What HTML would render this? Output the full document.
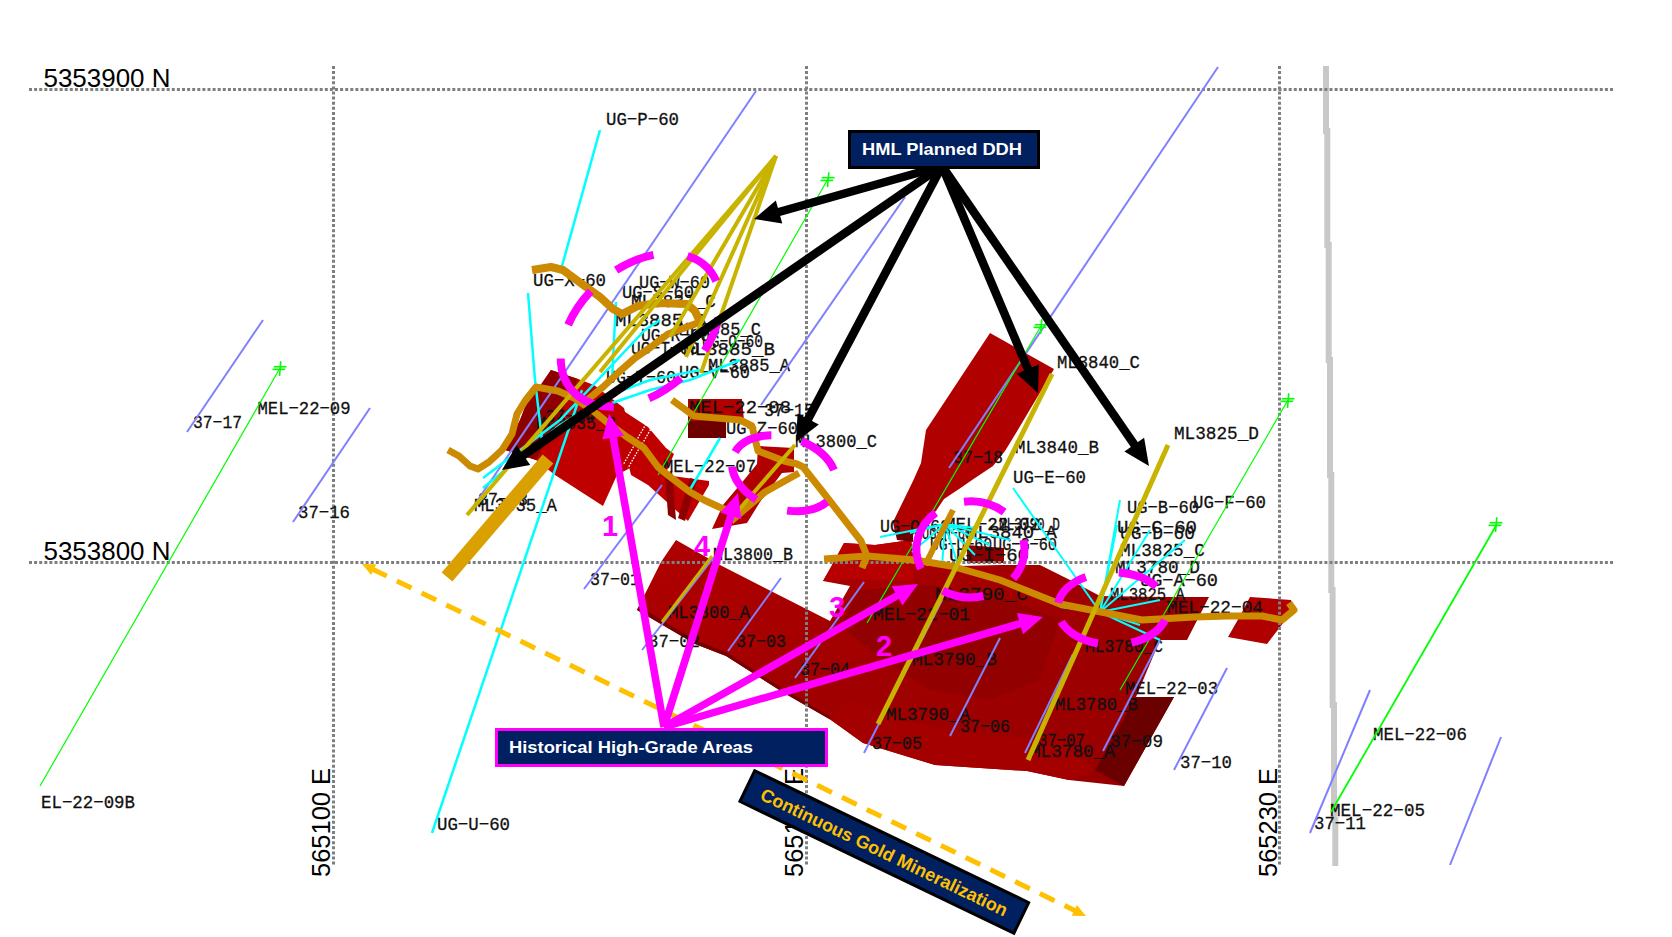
<!DOCTYPE html>
<html><head><meta charset="utf-8"><style>html,body{margin:0;padding:0;background:#fff;overflow:hidden}svg{display:block}</style></head>
<body><svg width="1672" height="937" viewBox="0 0 1672 937" font-family="Liberation Sans">
<defs>
<linearGradient id="gMain" x1="0" y1="0" x2="1" y2="1"><stop offset="0" stop-color="#B00000"/><stop offset="0.5" stop-color="#A00000"/><stop offset="1" stop-color="#960000"/></linearGradient>
<linearGradient id="gLeft" x1="0" y1="0" x2="1" y2="1"><stop offset="0" stop-color="#A00000"/><stop offset="1" stop-color="#C00000"/></linearGradient>
</defs>
<rect width="1672" height="937" fill="#fff"/>
<polyline points="1326,66 1326,131 1327.3,131 1327.3,245 1328.7,245 1328.7,360 1330,360 1330,475 1331.3,475 1331.3,590 1332.6,590 1332.6,705 1334,705 1334,820 1335.3,820 1335.3,866" fill="none" stroke="#C8C8C8" stroke-width="6"/>
<polygon points="676,540 720,565 830,621 850,586 823,581 831,567 844,543 875,545 911,540 915,562 960,566 1000,565 1040,565 1070,580 1100,596 1163,597 1209,597 1187,640 1160,640 1136,697 1174,697 1124,786 1069,780 1027,771 935,765 863,743 831,720 784,693 726,656 695,644 637,610 644,596 661,562" fill="url(#gMain)"/><polygon points="1136,697 1174,697 1124,786 1095,770" fill="#6A0000"/><polygon points="1250,597 1291,600 1294,609 1267,644 1228,637 1240,616" fill="#B00000"/><polygon points="637,610 695,644 726,656 784,693 831,720 829,716 784,689 726,652 695,640 639,606" fill="#780000"/><polygon points="860,590 930,585 1010,600 1060,620 1040,680 990,700 930,690 870,650 840,625" fill="#930000"/><polygon points="831,720 863,743 935,765 1027,771 1069,780 1095,770 1060,740 980,735 900,720 850,700" fill="#A40000"/><polygon points="823,581 831,567 844,543 875,545 911,540 915,565 912,582 857,579" fill="#B80000"/><polygon points="990,333 1054,369 1016,433 1005,451 993,466 972,480 962,487 944,499 936,511 922,523 913,535 895,533 893,522 913,481 921,463 926,430" fill="#B00000"/><polygon points="895,531 913,533 913,542 897,540" fill="#6A0000"/><polygon points="967,545 1004,548 1004,563 967,563" fill="#8A0000"/><polygon points="551,370 578,379 594,385 624,408 632,440 632,467 617,475 603,506 555,475 536,460 505,450 520,420 527,402 540,386" fill="#BE0000"/><polygon points="613,404 648,427 666,448 674,454 665,475 709,481 709,485 688,521 648,485 631,475 625,450" fill="#C00000"/><polygon points="551,370 540,386 527,402 520,420 505,450 536,460 555,425 572,392 578,379" fill="#8E0000"/><g stroke="#fff" stroke-width="1.3" stroke-dasharray="1.6 1.4"><line x1="652" y1="427" x2="641" y2="446"/><line x1="646" y1="424" x2="635" y2="443"/><line x1="640" y1="447" x2="628" y2="468"/><line x1="635" y1="444" x2="623" y2="465"/></g><polygon points="665,475 672,470 676,520 668,515" fill="#8E0000"/><polygon points="690,478 697,480 685,521 678,518" fill="#8E0000"/><polygon points="688,399 742,399 744,421 688,421" fill="#B00000"/><polygon points="688,421 726,421 726,438 688,438" fill="#6E0000"/><polygon points="758,446 794,448 794,472 782,473 760,502 747,523 712,529 723,505 744,480 757,464" fill="#B00000"/>
<line x1="29" y1="89.5" x2="1613" y2="89.5" stroke="#7F7F7F" stroke-width="3" stroke-dasharray="3 2.1"/><line x1="29" y1="562.5" x2="1613" y2="562.5" stroke="#7F7F7F" stroke-width="3" stroke-dasharray="3 2.1"/><line x1="333.5" y1="66" x2="333.5" y2="866" stroke="#7F7F7F" stroke-width="3" stroke-dasharray="3 2.1"/><line x1="806.5" y1="66" x2="806.5" y2="866" stroke="#7F7F7F" stroke-width="3" stroke-dasharray="3 2.1"/><line x1="1279.5" y1="66" x2="1279.5" y2="866" stroke="#7F7F7F" stroke-width="3" stroke-dasharray="3 2.1"/>
<g font-size="18.5" font-family="Liberation Mono" fill="#111" stroke="#111" stroke-width="0.3"><text x="606" y="124.5" textLength="73" lengthAdjust="spacingAndGlyphs">UG&#8722;P&#8722;60</text><text x="533" y="286" textLength="73" lengthAdjust="spacingAndGlyphs">UG&#8722;X&#8722;60</text><text x="639" y="288" textLength="71" lengthAdjust="spacingAndGlyphs">UG&#8722;W&#8722;60</text><text x="622" y="297.5" textLength="72" lengthAdjust="spacingAndGlyphs">UG&#8722;S&#8722;60</text><text x="631" y="307" textLength="85" lengthAdjust="spacingAndGlyphs">ML3837_C</text><text x="615" y="326" textLength="91" lengthAdjust="spacingAndGlyphs">ML3885_B</text><text x="679" y="334.5" textLength="82" lengthAdjust="spacingAndGlyphs">ML3885_C</text><text x="641" y="341" textLength="69" lengthAdjust="spacingAndGlyphs">UG&#8722;R&#8722;60</text><text x="702" y="347" textLength="61" lengthAdjust="spacingAndGlyphs">UG&#8722;O&#8722;60</text><text x="631" y="353.5" textLength="68" lengthAdjust="spacingAndGlyphs">UG&#8722;T&#8722;60</text><text x="683" y="355" textLength="92" lengthAdjust="spacingAndGlyphs">ML3885_B</text><text x="708" y="371" textLength="82" lengthAdjust="spacingAndGlyphs">ML3885_A</text><text x="606" y="382.5" textLength="70" lengthAdjust="spacingAndGlyphs">UG&#8722;Y&#8722;60</text><text x="679" y="377.5" textLength="71" lengthAdjust="spacingAndGlyphs">UG&#8722;V&#8722;60</text><text x="689" y="413" textLength="102" lengthAdjust="spacingAndGlyphs">MEL&#8722;22&#8722;08</text><text x="764" y="416" textLength="50" lengthAdjust="spacingAndGlyphs">37&#8722;15</text><text x="726" y="433.5" textLength="72" lengthAdjust="spacingAndGlyphs">UG&#8722;Z&#8722;60</text><text x="795" y="446.5" textLength="82" lengthAdjust="spacingAndGlyphs">ML3800_C</text><text x="474" y="510.5" textLength="83" lengthAdjust="spacingAndGlyphs">ML3835_A</text><text x="478" y="505" textLength="50" lengthAdjust="spacingAndGlyphs">37&#8722;13</text><text x="663" y="472" textLength="93" lengthAdjust="spacingAndGlyphs">MEL&#8722;22&#8722;07</text><text x="536" y="429" textLength="80" lengthAdjust="spacingAndGlyphs">ML3835_B</text><text x="545" y="422" textLength="50" lengthAdjust="spacingAndGlyphs">37&#8722;14</text><text x="1057" y="368" textLength="83" lengthAdjust="spacingAndGlyphs">ML3840_C</text><text x="1015" y="452.5" textLength="84" lengthAdjust="spacingAndGlyphs">ML3840_B</text><text x="953" y="463" textLength="50" lengthAdjust="spacingAndGlyphs">37&#8722;18</text><text x="1013" y="483" textLength="73" lengthAdjust="spacingAndGlyphs">UG&#8722;E&#8722;60</text><text x="1174" y="438.5" textLength="85" lengthAdjust="spacingAndGlyphs">ML3825_D</text><text x="1127" y="513" textLength="72" lengthAdjust="spacingAndGlyphs">UG&#8722;B&#8722;60</text><text x="1193" y="508" textLength="73" lengthAdjust="spacingAndGlyphs">UG&#8722;F&#8722;60</text><text x="1117" y="533" textLength="80" lengthAdjust="spacingAndGlyphs">UG&#8722;C&#8722;60</text><text x="1120" y="539" textLength="75" lengthAdjust="spacingAndGlyphs">UG&#8722;D&#8722;60</text><text x="1120" y="556" textLength="85" lengthAdjust="spacingAndGlyphs">ML3825_C</text><text x="1115" y="573" textLength="85" lengthAdjust="spacingAndGlyphs">ML3780_D</text><text x="1140" y="586" textLength="78" lengthAdjust="spacingAndGlyphs">UG&#8722;A&#8722;60</text><text x="1110" y="600" textLength="75" lengthAdjust="spacingAndGlyphs">ML3825_A</text><text x="1167" y="613" textLength="96" lengthAdjust="spacingAndGlyphs">MEL&#8722;22&#8722;04</text><text x="935" y="600" textLength="93" lengthAdjust="spacingAndGlyphs">ML3790_C</text><text x="873" y="620" textLength="97" lengthAdjust="spacingAndGlyphs">MEL&#8722;22&#8722;01</text><text x="912" y="665" textLength="85" lengthAdjust="spacingAndGlyphs">ML3790_B</text><text x="1085" y="652" textLength="78" lengthAdjust="spacingAndGlyphs">ML3780_C</text><text x="1125" y="694" textLength="93" lengthAdjust="spacingAndGlyphs">MEL&#8722;22&#8722;03</text><text x="1055" y="710" textLength="83" lengthAdjust="spacingAndGlyphs">ML3780_B</text><text x="886" y="720" textLength="84" lengthAdjust="spacingAndGlyphs">ML3790_A</text><text x="960" y="732" textLength="50" lengthAdjust="spacingAndGlyphs">37&#8722;06</text><text x="872" y="749" textLength="50" lengthAdjust="spacingAndGlyphs">37&#8722;05</text><text x="1038" y="746" textLength="47" lengthAdjust="spacingAndGlyphs">37&#8722;07</text><text x="1030" y="757" textLength="85" lengthAdjust="spacingAndGlyphs">ML3780_A</text><text x="1110" y="747" textLength="53" lengthAdjust="spacingAndGlyphs">37&#8722;09</text><text x="1180" y="768" textLength="52" lengthAdjust="spacingAndGlyphs">37&#8722;10</text><text x="713" y="560" textLength="80" lengthAdjust="spacingAndGlyphs">ML3800_B</text><text x="590" y="585" textLength="50" lengthAdjust="spacingAndGlyphs">37&#8722;01</text><text x="668" y="618" textLength="82" lengthAdjust="spacingAndGlyphs">ML3800_A</text><text x="648" y="647" textLength="52" lengthAdjust="spacingAndGlyphs">37&#8722;02</text><text x="736" y="647" textLength="50" lengthAdjust="spacingAndGlyphs">37&#8722;03</text><text x="800" y="675" textLength="50" lengthAdjust="spacingAndGlyphs">37&#8722;04</text><text x="193" y="428" textLength="49" lengthAdjust="spacingAndGlyphs">37&#8722;17</text><text x="257.5" y="414" textLength="93" lengthAdjust="spacingAndGlyphs">MEL&#8722;22&#8722;09</text><text x="298" y="518" textLength="52" lengthAdjust="spacingAndGlyphs">37&#8722;16</text><text x="41" y="808" textLength="94" lengthAdjust="spacingAndGlyphs">EL&#8722;22&#8722;09B</text><text x="437" y="830" textLength="73" lengthAdjust="spacingAndGlyphs">UG&#8722;U&#8722;60</text><text x="1373" y="739.5" textLength="94" lengthAdjust="spacingAndGlyphs">MEL&#8722;22&#8722;06</text><text x="1330" y="816" textLength="95" lengthAdjust="spacingAndGlyphs">MEL&#8722;22&#8722;05</text><text x="1314" y="829" textLength="52" lengthAdjust="spacingAndGlyphs">37&#8722;11</text><text x="880" y="532" textLength="70" lengthAdjust="spacingAndGlyphs">UG&#8722;Q&#8722;60</text><text x="945" y="530" textLength="95" lengthAdjust="spacingAndGlyphs">MEL&#8722;22&#8722;02</text><text x="999" y="530" textLength="61" lengthAdjust="spacingAndGlyphs">ML3790_D</text><text x="922" y="539" textLength="50" lengthAdjust="spacingAndGlyphs">UG&#8722;H&#8722;60</text><text x="966" y="538" textLength="91" lengthAdjust="spacingAndGlyphs">ML3840_A</text><text x="930" y="550" textLength="62" lengthAdjust="spacingAndGlyphs">UG&#8722;U&#8722;60</text><text x="993" y="550" textLength="64" lengthAdjust="spacingAndGlyphs">UG&#8722;G&#8722;60</text><text x="949" y="561" textLength="80" lengthAdjust="spacingAndGlyphs">UG&#8722;I&#8722;60</text></g>
<line x1="187" y1="432" x2="263" y2="320" stroke="#8080FF" stroke-width="2"/><line x1="293" y1="522" x2="370" y2="408" stroke="#8080FF" stroke-width="2"/><line x1="471" y1="510" x2="756" y2="91" stroke="#8080FF" stroke-width="2"/><line x1="949" y1="468" x2="1218" y2="67" stroke="#8080FF" stroke-width="2"/><line x1="761" y1="405" x2="905" y2="197" stroke="#8080FF" stroke-width="2"/><line x1="584" y1="589" x2="662" y2="485" stroke="#8080FF" stroke-width="2"/><line x1="642" y1="650" x2="714" y2="557" stroke="#8080FF" stroke-width="2"/><line x1="728" y1="651" x2="781" y2="578" stroke="#8080FF" stroke-width="2"/><line x1="795" y1="678" x2="864" y2="582" stroke="#8080FF" stroke-width="2"/><line x1="864" y1="753" x2="942" y2="600" stroke="#8080FF" stroke-width="2"/><line x1="950" y1="736" x2="1000" y2="638" stroke="#8080FF" stroke-width="2"/><line x1="1025" y1="753" x2="1073" y2="654" stroke="#8080FF" stroke-width="2"/><line x1="1103" y1="751" x2="1160" y2="640" stroke="#8080FF" stroke-width="2"/><line x1="1174" y1="770" x2="1227" y2="668" stroke="#8080FF" stroke-width="2"/><line x1="1310" y1="833" x2="1370" y2="690" stroke="#8080FF" stroke-width="2"/><line x1="1450" y1="865" x2="1501" y2="737" stroke="#8080FF" stroke-width="2"/><line x1="40" y1="786" x2="280" y2="368" stroke="#00FF00" stroke-width="1.2"/><line x1="658" y1="475" x2="828" y2="179" stroke="#00FF00" stroke-width="1.2"/><line x1="1041" y1="326" x2="867" y2="623" stroke="#00FF00" stroke-width="1.2"/><line x1="1288" y1="400" x2="1120" y2="690" stroke="#00FF00" stroke-width="1.2"/><line x1="1497" y1="524" x2="1331" y2="812" stroke="#00FF00" stroke-width="1.8"/><line x1="432" y1="833" x2="582" y2="390" stroke="#00FFFF" stroke-width="2.5"/><line x1="562" y1="266" x2="600" y2="130" stroke="#00FFFF" stroke-width="2.5"/><line x1="688" y1="493" x2="720" y2="438" stroke="#00FFFF" stroke-width="2.5"/><polyline points="528,293 535,380 542,440" fill="none" stroke="#00FFFF" stroke-width="2.5"/><polyline points="483,488 560,425 610,395 650,380 700,370" fill="none" stroke="#00FFFF" stroke-width="2.5"/><polyline points="483,478 560,420 645,330 660,320" fill="none" stroke="#00FFFF" stroke-width="2.5"/><polyline points="612,380 614,340 616,302" fill="none" stroke="#00FFFF" stroke-width="2.5"/><polyline points="612,403 650,390 690,380 740,360" fill="none" stroke="#00FFFF" stroke-width="2.5"/><line x1="945" y1="524" x2="880" y2="537" stroke="#00FFFF" stroke-width="2"/><line x1="945" y1="524" x2="910" y2="533" stroke="#00FFFF" stroke-width="2"/><line x1="945" y1="524" x2="912" y2="552" stroke="#00FFFF" stroke-width="2"/><line x1="945" y1="524" x2="930" y2="560" stroke="#00FFFF" stroke-width="2"/><line x1="945" y1="524" x2="942" y2="567" stroke="#00FFFF" stroke-width="2"/><line x1="945" y1="524" x2="958" y2="565" stroke="#00FFFF" stroke-width="2"/><line x1="945" y1="524" x2="975" y2="555" stroke="#00FFFF" stroke-width="2"/><line x1="945" y1="524" x2="990" y2="545" stroke="#00FFFF" stroke-width="2"/><line x1="945" y1="524" x2="1010" y2="540" stroke="#00FFFF" stroke-width="2"/><line x1="945" y1="524" x2="975" y2="528" stroke="#00FFFF" stroke-width="2"/><line x1="1100" y1="612" x2="1060" y2="607" stroke="#00FFFF" stroke-width="2"/><line x1="1100" y1="612" x2="1117" y2="525" stroke="#00FFFF" stroke-width="2"/><line x1="1100" y1="612" x2="1120" y2="500" stroke="#00FFFF" stroke-width="2"/><line x1="1100" y1="612" x2="1150" y2="530" stroke="#00FFFF" stroke-width="2"/><line x1="1100" y1="612" x2="1185" y2="540" stroke="#00FFFF" stroke-width="2"/><line x1="1100" y1="612" x2="1160" y2="600" stroke="#00FFFF" stroke-width="2"/><line x1="1100" y1="612" x2="1140" y2="625" stroke="#00FFFF" stroke-width="2"/><line x1="1100" y1="612" x2="1160" y2="640" stroke="#00FFFF" stroke-width="2"/><line x1="1013" y1="488" x2="1100" y2="612" stroke="#00FFFF" stroke-width="2"/>
<g stroke="#00FF00" stroke-width="1.6"><line x1="273.7" y1="366.7" x2="286.5" y2="366.7"/><line x1="272.5" y1="369.4" x2="285.2" y2="369.4"/><line x1="280.8" y1="361.3" x2="279.5" y2="376"/></g><g stroke="#00FF00" stroke-width="1.6"><line x1="821.7" y1="177.7" x2="834.5" y2="177.7"/><line x1="820.5" y1="180.4" x2="833.2" y2="180.4"/><line x1="828.8" y1="172.3" x2="827.5" y2="187"/></g><g stroke="#00FF00" stroke-width="1.6"><line x1="1034.7" y1="324.7" x2="1047.5" y2="324.7"/><line x1="1033.5" y1="327.4" x2="1046.2" y2="327.4"/><line x1="1041.8" y1="319.3" x2="1040.5" y2="334"/></g><g stroke="#00FF00" stroke-width="1.6"><line x1="1281.7" y1="398.7" x2="1294.5" y2="398.7"/><line x1="1280.5" y1="401.4" x2="1293.2" y2="401.4"/><line x1="1288.8" y1="393.3" x2="1287.5" y2="408"/></g><g stroke="#00FF00" stroke-width="1.6"><line x1="1489.7" y1="522.7" x2="1502.5" y2="522.7"/><line x1="1488.5" y1="525.4" x2="1501.2" y2="525.4"/><line x1="1496.8" y1="517.3" x2="1495.5" y2="532"/></g>
<polyline points="447,577 548,459" fill="none" stroke="#DAA000" stroke-width="14" stroke-linejoin="round"/><polyline points="448,450 459,456 470,466 478,469 489,462 502,450 512,434 517,414 525,401 536,387 558,391 574,398 597,414 608,423 627,437 644,448 658,467 669,476 690,492 704,500 719,507 732,512" fill="none" stroke="#CC8A00" stroke-width="7" stroke-linejoin="round"/><polyline points="532,270 551,267 563,270 582,284 600,297 613,309 622,314 638,306 659,303 687,304 695,311 701,324" fill="none" stroke="#CC8A00" stroke-width="8" stroke-linejoin="round"/><polyline points="700,322 668,334 651,347 635,358 619,372 603,387 586,401" fill="none" stroke="#CC8A00" stroke-width="7" stroke-linejoin="round"/><polyline points="672,400 694,416 740,420 752,426 758,451 784,461 797,464 803,467 826,496 861,541 867,556 915,560 951,566 1000,580 1060,604 1096,611 1142,620 1194,617 1228,616 1262,616 1282,620 1294,610 1289,603" fill="none" stroke="#CC8A00" stroke-width="7" stroke-linejoin="round"/><polyline points="799,473 765,492 731,521" fill="none" stroke="#CC8A00" stroke-width="7" stroke-linejoin="round"/><polyline points="824,559 867,556" fill="none" stroke="#CC8A00" stroke-width="7" stroke-linejoin="round"/><polyline points="862,568 867,556" fill="none" stroke="#CC8A00" stroke-width="7" stroke-linejoin="round"/><polyline points="953,510 925,565" fill="none" stroke="#CC8A00" stroke-width="6" stroke-linejoin="round"/><polyline points="776,156 467,515" fill="none" stroke="#C8B400" stroke-width="4" stroke-linejoin="round"/><polyline points="776,156 600,372" fill="none" stroke="#C8B400" stroke-width="4" stroke-linejoin="round"/><polyline points="776,156 670,337" fill="none" stroke="#C8B400" stroke-width="4" stroke-linejoin="round"/><polyline points="776,156 686,357" fill="none" stroke="#C8B400" stroke-width="4" stroke-linejoin="round"/><polyline points="776,156 701,373" fill="none" stroke="#C8B400" stroke-width="4" stroke-linejoin="round"/><polyline points="1052,374 878,724" fill="none" stroke="#C8B400" stroke-width="5" stroke-linejoin="round"/><polyline points="1168,445 1028,760" fill="none" stroke="#C8B400" stroke-width="5" stroke-linejoin="round"/><polyline points="730,520 795,445" fill="none" stroke="#C8B400" stroke-width="4" stroke-linejoin="round"/><polyline points="662,622 712,556" fill="none" stroke="#C8B400" stroke-width="3" stroke-linejoin="round"/>
<g fill="#000"><text x="43.5" y="86.5" font-size="25" textLength="127" lengthAdjust="spacingAndGlyphs">5353900 N</text><text x="43.5" y="559.5" font-size="25" textLength="127" lengthAdjust="spacingAndGlyphs">5353800 N</text><text transform="translate(329.5,877) rotate(-90)" font-size="25" textLength="109" lengthAdjust="spacingAndGlyphs">565100 E</text><text transform="translate(802.5,877) rotate(-90)" font-size="25" textLength="109" lengthAdjust="spacingAndGlyphs">565165 E</text><text transform="translate(1277,877) rotate(-90)" font-size="25" textLength="109" lengthAdjust="spacingAndGlyphs">565230 E</text></g>
<line x1="362" y1="564" x2="1080" y2="913.1" stroke="#FFC000" stroke-width="5" stroke-dasharray="16.3 11.2" stroke-dashoffset="16.3"/><polygon points="362,564 376.3,564.3 371.1,575.1" fill="#FFC000"/><polygon points="1086,916 1071.7,915.7 1076.9,904.9" fill="#FFC000"/>
<path d="M616.1,270.2 A62.6,91.3 48.2 0 1 653.5,254.9" fill="none" stroke="#FF00FF" stroke-width="8"/><path d="M687.5,256.0 A62.6,91.3 48.2 0 1 716.2,281.2" fill="none" stroke="#FF00FF" stroke-width="8"/><path d="M718.7,317.5 A62.6,91.3 48.2 0 1 704.6,350.6" fill="none" stroke="#FF00FF" stroke-width="8"/><path d="M680.8,377.9 A62.6,91.3 48.2 0 1 648.9,398.3" fill="none" stroke="#FF00FF" stroke-width="8"/><path d="M613.7,406.7 A62.6,91.3 48.2 0 1 560.7,358.5" fill="none" stroke="#FF00FF" stroke-width="8"/><path d="M568.1,324.8 A62.6,91.3 48.2 0 1 590.7,291.2" fill="none" stroke="#FF00FF" stroke-width="8"/><path d="M735.2,451.9 A36.0,53.8 107.9 0 1 771.4,435.2" fill="none" stroke="#FF00FF" stroke-width="8"/><path d="M801.7,441.3 A36.0,53.8 107.9 0 1 834.0,470.0" fill="none" stroke="#FF00FF" stroke-width="8"/><path d="M827.0,501.9 A36.0,53.8 107.9 0 1 787.1,510.6" fill="none" stroke="#FF00FF" stroke-width="8"/><path d="M756.2,499.6 A36.0,53.8 107.9 0 1 732.1,466.9" fill="none" stroke="#FF00FF" stroke-width="8"/><path d="M921.0,568.8 A54,48 180 0 1 935.6,512.7" fill="none" stroke="#FF00FF" stroke-width="8"/><path d="M964.0,501.7 A54,48 180 0 1 1004.2,512.0" fill="none" stroke="#FF00FF" stroke-width="8"/><path d="M1023.4,540.0 A54,48 180 0 1 1013.2,578.6" fill="none" stroke="#FF00FF" stroke-width="8"/><path d="M983.3,596.0 A54,48 180 0 1 942.7,590.6" fill="none" stroke="#FF00FF" stroke-width="8"/><path d="M1058.2,602.8 A55.2,36.2 180 0 1 1085.9,576.9" fill="none" stroke="#FF00FF" stroke-width="8"/><path d="M1118.8,572.6 A55.2,36.2 180 0 1 1156.3,586.4" fill="none" stroke="#FF00FF" stroke-width="8"/><path d="M1165.0,620.1 A55.2,36.2 180 0 1 1131.5,642.6" fill="none" stroke="#FF00FF" stroke-width="8"/><path d="M1098.0,643.5 A55.2,36.2 180 0 1 1061.2,621.7" fill="none" stroke="#FF00FF" stroke-width="8"/><line x1="664" y1="727" x2="612.8" y2="435.7" stroke="#FF00FF" stroke-width="7.5"/><polygon points="609,414 624.0,435.7 602.3,439.5" fill="#FF00FF"/><line x1="664" y1="727" x2="731.4" y2="514.0" stroke="#FF00FF" stroke-width="7.5"/><polygon points="738,493 741.3,519.2 720.3,512.6" fill="#FF00FF"/><line x1="664" y1="727" x2="898.8" y2="594.8" stroke="#FF00FF" stroke-width="7.5"/><polygon points="918,584 902.5,605.4 891.7,586.2" fill="#FF00FF"/><line x1="664" y1="727" x2="1021.9" y2="623.1" stroke="#FF00FF" stroke-width="7.5"/><polygon points="1043,617 1023.0,634.3 1016.9,613.1" fill="#FF00FF"/><g font-weight="bold" font-size="29" fill="#FF00FF"><text x="602" y="535.5">1</text><text x="694" y="556">4</text><text x="829" y="616.5">3</text><text x="876" y="656">2</text></g>
<line x1="942" y1="166" x2="777.1" y2="212.5" stroke="#000" stroke-width="8.5"/><polygon points="754,219 775.8,200.4 782.3,223.5" fill="#000"/><line x1="942" y1="166" x2="521.7" y2="456.4" stroke="#000" stroke-width="8.5"/><polygon points="502,470 516.6,445.3 530.2,465.1" fill="#000"/><line x1="942" y1="166" x2="807.2" y2="420.8" stroke="#000" stroke-width="8.5"/><polygon points="796,442 797.6,413.4 818.8,424.6" fill="#000"/><line x1="942" y1="166" x2="1028.7" y2="370.9" stroke="#000" stroke-width="8.5"/><polygon points="1038,393 1016.8,373.7 1038.9,364.4" fill="#000"/><line x1="942" y1="166" x2="1135.4" y2="446.2" stroke="#000" stroke-width="8.5"/><polygon points="1149,466 1124.4,451.4 1144.1,437.8" fill="#000"/>
<rect x="849.5" y="131.5" width="189" height="36" fill="#002060" stroke="#000" stroke-width="3"/><text x="862" y="155" font-weight="bold" font-size="16.5" fill="#fff" textLength="160" lengthAdjust="spacingAndGlyphs">HML Planned DDH</text><rect x="496.5" y="729.5" width="330" height="36" fill="#002060" stroke="#FF00FF" stroke-width="3"/><text x="509" y="753" font-weight="bold" font-size="17" fill="#fff" textLength="244" lengthAdjust="spacingAndGlyphs">Historical High-Grade Areas</text><g transform="translate(884.3,852) rotate(25.7)"><rect x="-152" y="-17" width="304" height="34" fill="#002060" stroke="#000" stroke-width="3"/><text x="0" y="6.5" text-anchor="middle" font-weight="bold" font-size="18" fill="#FFC000" textLength="272" lengthAdjust="spacingAndGlyphs">Continuous Gold Mineralization</text></g>
</svg></body></html>
